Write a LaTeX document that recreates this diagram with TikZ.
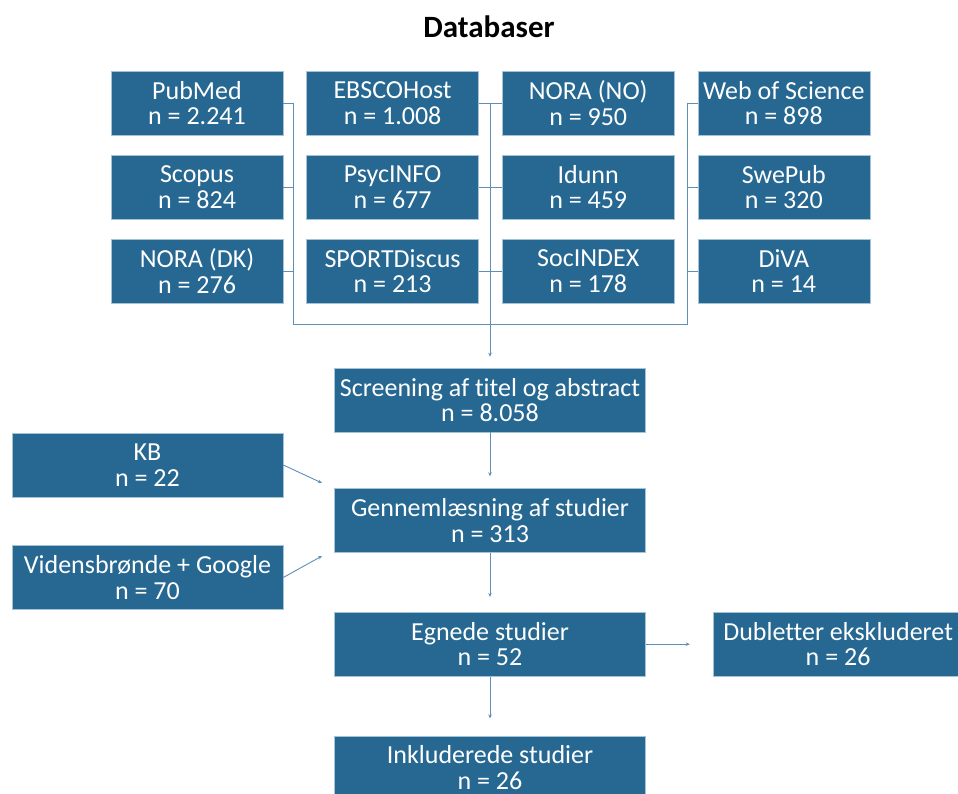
\documentclass[tikz,border=0pt]{standalone}
\usepackage{fontspec}
\setmainfont{Carlito}[Ligatures=NoCommon]
\usetikzlibrary{positioning, arrows.meta}
\definecolor{boksblaa}{RGB}{38,104,145}
\definecolor{kantblaa}{RGB}{165,195,215}
\definecolor{linjeblaa}{RGB}{95,142,182}

\begin{document}
\begin{tikzpicture}[x=1pt, y=-1pt,
    boks/.style={rectangle, fill=boksblaa, draw=kantblaa, line width=0.6pt, text=white,
      align=center, inner sep=0pt, minimum width=172pt, minimum height=64pt,
      font=\fontsize{26}{25.5}\selectfont},
    bred/.style={minimum width=311pt},
    side/.style={minimum width=271pt},
    linje/.style={draw=linjeblaa, line width=0.9pt},
    pil/.style={linje, -{Stealth[length=4pt, width=3.5pt]}}]
  \useasboundingbox (0,0) rectangle (958,794);

  % titel
  \node (titel) at (489,27) {\fontsize{31}{31}\selectfont\bfseries Databaser};

  % databaser
  \node [boks] (pubmed) at (197,103) {PubMed\\n = 2.241};
  \node [boks] (ebsco) [right=23pt of pubmed] {EBSCOHost\\n = 1.008};
  \node [boks] (norano) [right=23pt of ebsco] {NORA (NO)\\n = 950};
  \node [boks] (wos) [right=23pt of norano] {Web of Science\\n = 898};
  \node [boks] (scopus) [below=19.5pt of pubmed] {Scopus\\n = 824};
  \node [boks] (psyc) [right=23pt of scopus] {PsycINFO\\n = 677};
  \node [boks] (idunn) [right=23pt of psyc] {Idunn\\n = 459};
  \node [boks] (swepub) [right=23pt of idunn] {SwePub\\n = 320};
  \node [boks] (noradk) [below=19.5pt of scopus] {NORA (DK)\\n = 276};
  \node [boks] (sport) [right=23pt of noradk] {SPORTDiscus\\n = 213};
  \node [boks] (socindex) [right=23pt of sport] {SocINDEX\\n = 178};
  \node [boks] (diva) [right=23pt of socindex] {DiVA\\n = 14};

  % forloeb
  \node [boks, bred] (screening) at (490,400) {Screening af titel og abstract\\n = 8.058};
  \node [boks, bred] (gennem) [below=56pt of screening] {Gennemlæsning af studier\\n = 313};
  \node [boks, bred] (egnede) [below=59pt of gennem] {Egnede studier\\n = 52};
  \node [boks, bred] (inkl) [below=59pt of egnede] {Inkluderede studier\\n = 26};
  \node [boks, minimum width=250pt] (dubletter) [right=67pt of egnede] {Dubletter ekskluderet\\n = 26};
  \node [boks, side] (kb) at (147.5,465) {KB\\n = 22};
  \node [boks, side] (videns) at (147.5,577.5) {Vidensbrønde + Google\\n = 70};

  \coordinate (venstre) at (293,324);
  \coordinate (hoejre) at (687,324);
  \coordinate (kbind) at (322,483);
  \coordinate (vidind) at (322,556);

  % forbindelser
  \draw [linje] (pubmed.east) -| (venstre) -- (hoejre) |- (wos.west);
  \draw [linje] (scopus.east) -- (scopus.east -| venstre);
  \draw [linje] (noradk.east) -- (noradk.east -| venstre);
  \draw [linje] (swepub.west) -- (swepub.west -| hoejre);
  \draw [linje] (diva.west) -- (diva.west -| hoejre);
  \draw [linje] (ebsco) -- (norano);
  \draw [linje] (psyc) -- (idunn);
  \draw [linje] (sport) -- (socindex);
  \draw [pil, shorten >=11pt] (ebsco.east -| screening.north) -- (screening.north);
  \draw [pil, shorten >=12pt] (screening) -- (gennem);
  \draw [pil, shorten >=15pt] (gennem) -- (egnede);
  \draw [pil, shorten >=17pt] (egnede) -- (inkl);
  \draw [pil, shorten >=23pt] (egnede) -- (dubletter);
  \draw [pil] (kb.east) -- (kbind);
  \draw [pil] (videns.east) -- (vidind);
\end{tikzpicture}
\end{document}
